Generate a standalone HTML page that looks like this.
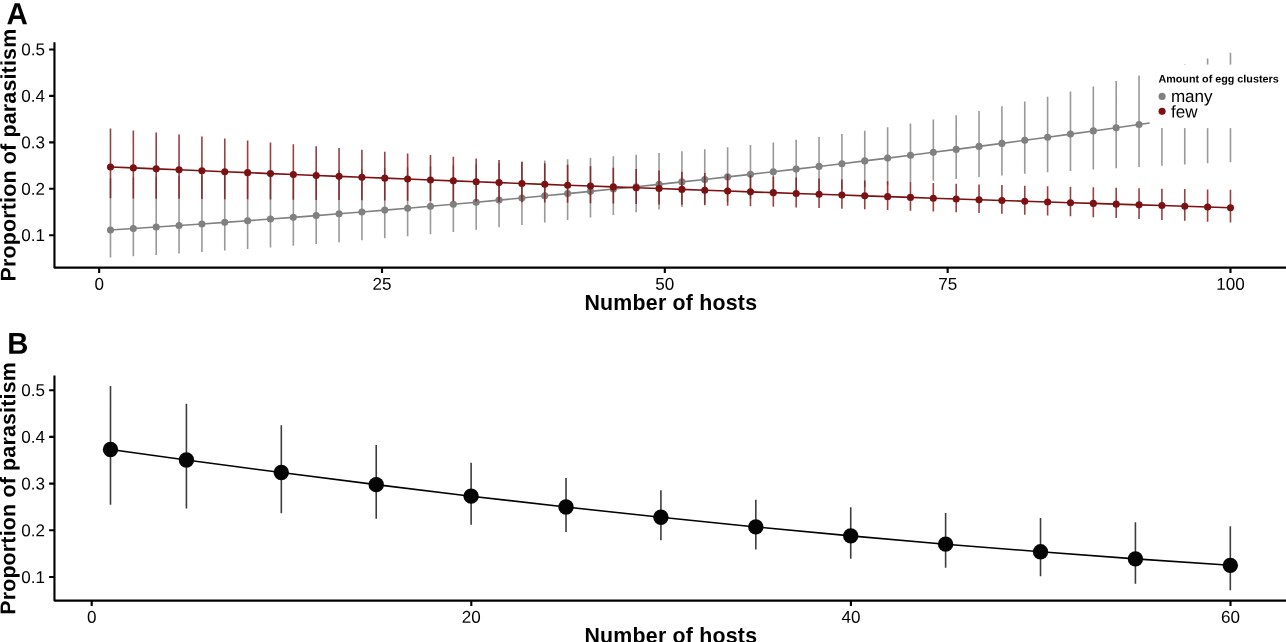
<!DOCTYPE html>
<html lang="en"><head><meta charset="utf-8"><title>Proportion of parasitism vs number of hosts</title>
<style>
html,body{margin:0;padding:0;background:#fff;}
body{width:1286px;height:642px;overflow:hidden;font-family:"Liberation Sans",Arial,sans-serif;}
svg{display:block;will-change:transform;}
svg text{filter:grayscale(1);}
</style></head><body>
<svg width="1286" height="642" viewBox="0 0 1286 642" font-family="Liberation Sans, Arial, sans-serif">
<rect width="1286" height="642" fill="#fff"/>
<g id="panelA">
<path d="M110.48 178.35V257.44M133.34 177.61V256.20M156.20 176.86V254.90M179.05 176.09V253.53M201.91 175.31V252.11M224.77 174.52V250.62M247.62 173.70V249.07M270.48 172.87V247.45M293.34 172.02V245.76M316.19 171.15V244.00M339.05 170.25V242.17M361.91 169.33V240.27M384.77 168.37V238.30M407.62 167.39V236.26M430.48 166.37V234.14M453.34 165.31V231.95M476.19 164.21V229.70M499.05 163.06V227.37M521.91 161.86V224.98M544.76 160.59V222.54M567.62 159.26V220.03M590.48 157.85V217.48M613.33 156.36V214.89M636.19 154.77V212.26M659.05 153.06V209.61M681.90 151.24V206.96M704.76 149.29V204.30M727.62 147.18V201.66M750.48 144.91V199.05M773.33 142.46V196.48M796.19 139.82V193.98M819.05 136.97V191.54M841.90 133.92V189.19M864.76 130.64V186.93M887.62 127.14V184.77M910.47 123.41V182.70M933.33 119.47V180.74M956.19 115.30V178.88M979.04 110.94V177.11M1001.90 106.37V175.43M1024.76 101.62V173.84M1047.61 96.70V172.32M1070.47 91.62V170.88M1093.33 86.40V169.50M1116.19 81.04V168.18M1139.04 75.56V166.91M1161.90 69.98V165.69M1184.76 64.31V164.51M1207.61 58.55V163.36M1230.47 52.74V162.26" fill="none" stroke="#808080" stroke-opacity="0.8" stroke-width="1.6"/>
<polyline points="110.48,229.97 133.34,228.52 156.20,227.03 179.05,225.51 201.91,223.95 224.77,222.36 247.62,220.72 270.48,219.05 293.34,217.34 316.19,215.59 339.05,213.80 361.91,211.97 384.77,210.09 407.62,208.18 430.48,206.23 453.34,204.23 476.19,202.19 499.05,200.11 521.91,197.99 544.76,195.82 567.62,193.61 590.48,191.36 613.33,189.06 636.19,186.72 659.05,184.34 681.90,181.91 704.76,179.43 727.62,176.92 750.48,174.36 773.33,171.75 796.19,169.11 819.05,166.42 841.90,163.68 864.76,160.91 887.62,158.09 910.47,155.23 933.33,152.33 956.19,149.39 979.04,146.40 1001.90,143.38 1024.76,140.32 1047.61,137.22 1070.47,134.09 1093.33,130.92 1116.19,127.71 1139.04,124.47 1161.90,121.20 1184.76,117.89 1207.61,114.56 1230.47,111.19" fill="none" stroke="#808080" stroke-width="1.6" stroke-linejoin="round"/>
<g fill="#808080"><circle cx="110.48" cy="229.97" r="3.55"/><circle cx="133.34" cy="228.52" r="3.55"/><circle cx="156.20" cy="227.03" r="3.55"/><circle cx="179.05" cy="225.51" r="3.55"/><circle cx="201.91" cy="223.95" r="3.55"/><circle cx="224.77" cy="222.36" r="3.55"/><circle cx="247.62" cy="220.72" r="3.55"/><circle cx="270.48" cy="219.05" r="3.55"/><circle cx="293.34" cy="217.34" r="3.55"/><circle cx="316.19" cy="215.59" r="3.55"/><circle cx="339.05" cy="213.80" r="3.55"/><circle cx="361.91" cy="211.97" r="3.55"/><circle cx="384.77" cy="210.09" r="3.55"/><circle cx="407.62" cy="208.18" r="3.55"/><circle cx="430.48" cy="206.23" r="3.55"/><circle cx="453.34" cy="204.23" r="3.55"/><circle cx="476.19" cy="202.19" r="3.55"/><circle cx="499.05" cy="200.11" r="3.55"/><circle cx="521.91" cy="197.99" r="3.55"/><circle cx="544.76" cy="195.82" r="3.55"/><circle cx="567.62" cy="193.61" r="3.55"/><circle cx="590.48" cy="191.36" r="3.55"/><circle cx="613.33" cy="189.06" r="3.55"/><circle cx="636.19" cy="186.72" r="3.55"/><circle cx="659.05" cy="184.34" r="3.55"/><circle cx="681.90" cy="181.91" r="3.55"/><circle cx="704.76" cy="179.43" r="3.55"/><circle cx="727.62" cy="176.92" r="3.55"/><circle cx="750.48" cy="174.36" r="3.55"/><circle cx="773.33" cy="171.75" r="3.55"/><circle cx="796.19" cy="169.11" r="3.55"/><circle cx="819.05" cy="166.42" r="3.55"/><circle cx="841.90" cy="163.68" r="3.55"/><circle cx="864.76" cy="160.91" r="3.55"/><circle cx="887.62" cy="158.09" r="3.55"/><circle cx="910.47" cy="155.23" r="3.55"/><circle cx="933.33" cy="152.33" r="3.55"/><circle cx="956.19" cy="149.39" r="3.55"/><circle cx="979.04" cy="146.40" r="3.55"/><circle cx="1001.90" cy="143.38" r="3.55"/><circle cx="1024.76" cy="140.32" r="3.55"/><circle cx="1047.61" cy="137.22" r="3.55"/><circle cx="1070.47" cy="134.09" r="3.55"/><circle cx="1093.33" cy="130.92" r="3.55"/><circle cx="1116.19" cy="127.71" r="3.55"/><circle cx="1139.04" cy="124.47" r="3.55"/><circle cx="1161.90" cy="121.20" r="3.55"/><circle cx="1184.76" cy="117.89" r="3.55"/><circle cx="1207.61" cy="114.56" r="3.55"/><circle cx="1230.47" cy="111.19" r="3.55"/></g>
<path d="M110.48 128.40V198.35M133.34 130.47V198.50M156.20 132.52V198.65M179.05 134.55V198.81M201.91 136.55V198.98M224.77 138.53V199.15M247.62 140.48V199.33M270.48 142.41V199.52M293.34 144.31V199.71M316.19 146.18V199.91M339.05 148.03V200.12M361.91 149.84V200.34M384.77 151.63V200.57M407.62 153.39V200.81M430.48 155.12V201.06M453.34 156.81V201.32M476.19 158.47V201.60M499.05 160.10V201.89M521.91 161.69V202.19M544.76 163.24V202.51M567.62 164.76V202.85M590.48 166.23V203.21M613.33 167.67V203.59M636.19 169.07V203.98M659.05 170.42V204.40M681.90 171.72V204.85M704.76 172.99V205.31M727.62 174.20V205.81M750.48 175.37V206.33M773.33 176.49V206.87M796.19 177.56V207.45M819.05 178.59V208.05M841.90 179.56V208.68M864.76 180.49V209.34M887.62 181.37V210.02M910.47 182.20V210.74M933.33 182.98V211.47M956.19 183.72V212.24M979.04 184.42V213.02M1001.90 185.08V213.83M1024.76 185.69V214.65M1047.61 186.27V215.49M1070.47 186.82V216.35M1093.33 187.33V217.22M1116.19 187.81V218.11M1139.04 188.26V219.00M1161.90 188.68V219.90M1184.76 189.08V220.80M1207.61 189.46V221.71M1230.47 189.81V222.62" fill="none" stroke="#7c1113" stroke-opacity="0.8" stroke-width="1.6"/>
<polyline points="110.48,166.93 133.34,167.90 156.20,168.86 179.05,169.81 201.91,170.76 224.77,171.71 247.62,172.65 270.48,173.58 293.34,174.51 316.19,175.43 339.05,176.34 361.91,177.25 384.77,178.16 407.62,179.06 430.48,179.95 453.34,180.84 476.19,181.72 499.05,182.59 521.91,183.47 544.76,184.33 567.62,185.19 590.48,186.04 613.33,186.89 636.19,187.73 659.05,188.57 681.90,189.40 704.76,190.23 727.62,191.05 750.48,191.86 773.33,192.67 796.19,193.47 819.05,194.27 841.90,195.06 864.76,195.85 887.62,196.63 910.47,197.41 933.33,198.18 956.19,198.94 979.04,199.70 1001.90,200.45 1024.76,201.20 1047.61,201.94 1070.47,202.68 1093.33,203.41 1116.19,204.14 1139.04,204.86 1161.90,205.57 1184.76,206.28 1207.61,206.99 1230.47,207.69" fill="none" stroke="#7c1113" stroke-width="1.6" stroke-linejoin="round"/>
<g fill="#7c1113"><circle cx="110.48" cy="166.93" r="3.55"/><circle cx="133.34" cy="167.90" r="3.55"/><circle cx="156.20" cy="168.86" r="3.55"/><circle cx="179.05" cy="169.81" r="3.55"/><circle cx="201.91" cy="170.76" r="3.55"/><circle cx="224.77" cy="171.71" r="3.55"/><circle cx="247.62" cy="172.65" r="3.55"/><circle cx="270.48" cy="173.58" r="3.55"/><circle cx="293.34" cy="174.51" r="3.55"/><circle cx="316.19" cy="175.43" r="3.55"/><circle cx="339.05" cy="176.34" r="3.55"/><circle cx="361.91" cy="177.25" r="3.55"/><circle cx="384.77" cy="178.16" r="3.55"/><circle cx="407.62" cy="179.06" r="3.55"/><circle cx="430.48" cy="179.95" r="3.55"/><circle cx="453.34" cy="180.84" r="3.55"/><circle cx="476.19" cy="181.72" r="3.55"/><circle cx="499.05" cy="182.59" r="3.55"/><circle cx="521.91" cy="183.47" r="3.55"/><circle cx="544.76" cy="184.33" r="3.55"/><circle cx="567.62" cy="185.19" r="3.55"/><circle cx="590.48" cy="186.04" r="3.55"/><circle cx="613.33" cy="186.89" r="3.55"/><circle cx="636.19" cy="187.73" r="3.55"/><circle cx="659.05" cy="188.57" r="3.55"/><circle cx="681.90" cy="189.40" r="3.55"/><circle cx="704.76" cy="190.23" r="3.55"/><circle cx="727.62" cy="191.05" r="3.55"/><circle cx="750.48" cy="191.86" r="3.55"/><circle cx="773.33" cy="192.67" r="3.55"/><circle cx="796.19" cy="193.47" r="3.55"/><circle cx="819.05" cy="194.27" r="3.55"/><circle cx="841.90" cy="195.06" r="3.55"/><circle cx="864.76" cy="195.85" r="3.55"/><circle cx="887.62" cy="196.63" r="3.55"/><circle cx="910.47" cy="197.41" r="3.55"/><circle cx="933.33" cy="198.18" r="3.55"/><circle cx="956.19" cy="198.94" r="3.55"/><circle cx="979.04" cy="199.70" r="3.55"/><circle cx="1001.90" cy="200.45" r="3.55"/><circle cx="1024.76" cy="201.20" r="3.55"/><circle cx="1047.61" cy="201.94" r="3.55"/><circle cx="1070.47" cy="202.68" r="3.55"/><circle cx="1093.33" cy="203.41" r="3.55"/><circle cx="1116.19" cy="204.14" r="3.55"/><circle cx="1139.04" cy="204.86" r="3.55"/><circle cx="1161.90" cy="205.57" r="3.55"/><circle cx="1184.76" cy="206.28" r="3.55"/><circle cx="1207.61" cy="206.99" r="3.55"/><circle cx="1230.47" cy="207.69" r="3.55"/></g>
</g>
<g id="legend"><rect x="1149.7" y="64.6" width="138.29999999999995" height="63.5" fill="#fff"/>
<text transform="translate(1158.4 82.45) rotate(0.05)" font-size="10.78" font-weight="bold" fill="#000">Amount of egg clusters</text>
<circle cx="1162.1" cy="96.4" r="3.55" fill="#808080"/><circle cx="1162.1" cy="111.35" r="3.55" fill="#7c1113"/>
<text transform="translate(1170.9 101.9) rotate(0.05)" font-size="17.07" fill="#000">many</text>
<text transform="translate(1170.9 117.5) rotate(0.05)" font-size="17.07" fill="#000">few</text></g>
<g id="axesA" stroke="#000" stroke-width="2.13" fill="none">
<path d="M54.46 42.3V267.6H1288" stroke-linejoin="round"/>
<path d="M49.13 235.20H54.46M49.13 188.77H54.46M49.13 142.34H54.46M49.13 95.91H54.46M49.13 49.48H54.46M99.17 267.6V272.93M382.00 267.6V272.93M664.82 267.6V272.93M947.64 267.6V272.93M1230.47 267.6V272.93"/></g>
<g font-size="17.07" fill="#000">
<text transform="translate(45.0 241.10) rotate(0.05)" text-anchor="end">0.1</text>
<text transform="translate(45.0 194.67) rotate(0.05)" text-anchor="end">0.2</text>
<text transform="translate(45.0 148.24) rotate(0.05)" text-anchor="end">0.3</text>
<text transform="translate(45.0 101.81) rotate(0.05)" text-anchor="end">0.4</text>
<text transform="translate(45.0 55.38) rotate(0.05)" text-anchor="end">0.5</text>
<text transform="translate(99.17 289.65) rotate(0.05)" text-anchor="middle">0</text>
<text transform="translate(382.00 289.65) rotate(0.05)" text-anchor="middle">25</text>
<text transform="translate(664.82 289.65) rotate(0.05)" text-anchor="middle">50</text>
<text transform="translate(947.64 289.65) rotate(0.05)" text-anchor="middle">75</text>
<text transform="translate(1230.47 289.65) rotate(0.05)" text-anchor="middle">100</text>
</g>
<text x="670.88" y="309.77" text-anchor="middle" font-size="21.33" font-weight="bold" letter-spacing="0.22" fill="#000">Number of hosts</text>
<text transform="translate(15.65 155.05) rotate(-89.97)" text-anchor="middle" font-size="21.33" font-weight="bold" letter-spacing="0.21" fill="#000">Proportion of parasitism</text>
<text transform="translate(6.6 24.35) rotate(0.05) scale(1 1.035)" font-size="29.6" font-weight="bold" fill="#000">A</text>
<g id="panelB">
<path d="M110.50 386.06V504.80M186.42 403.79V508.44M281.32 425.14V513.30M376.22 445.02V518.68M471.12 462.80V524.82M566.02 477.96V531.99M660.92 490.21V540.27M755.82 499.76V549.40M850.72 507.17V558.79M945.62 513.09V567.87M1040.52 518.03V576.23M1135.42 522.32V583.69M1230.32 526.15V590.20" fill="none" stroke="#000" stroke-opacity="0.76" stroke-width="1.6"/>
<polyline points="110.50,449.51 186.42,459.94 281.32,472.55 376.22,484.64 471.12,496.15 566.02,507.05 660.92,517.31 755.82,526.91 850.72,535.86 945.62,544.16 1040.52,551.82 1135.42,558.87 1230.32,565.33" fill="none" stroke="#000" stroke-width="1.55"/>
<g fill="#050505"><circle cx="110.50" cy="449.51" r="7.7"/><circle cx="186.42" cy="459.94" r="7.7"/><circle cx="281.32" cy="472.55" r="7.7"/><circle cx="376.22" cy="484.64" r="7.7"/><circle cx="471.12" cy="496.15" r="7.7"/><circle cx="566.02" cy="507.05" r="7.7"/><circle cx="660.92" cy="517.31" r="7.7"/><circle cx="755.82" cy="526.91" r="7.7"/><circle cx="850.72" cy="535.86" r="7.7"/><circle cx="945.62" cy="544.16" r="7.7"/><circle cx="1040.52" cy="551.82" r="7.7"/><circle cx="1135.42" cy="558.87" r="7.7"/><circle cx="1230.32" cy="565.33" r="7.7"/></g>
</g>
<g id="axesB" stroke="#000" stroke-width="2.13" fill="none">
<path d="M54.46 375.4V600.58H1288" stroke-linejoin="round"/>
<path d="M49.13 577.00H54.46M49.13 530.30H54.46M49.13 483.60H54.46M49.13 436.90H54.46M49.13 390.20H54.46M91.70 600.58V605.91M471.30 600.58V605.91M850.90 600.58V605.91M1230.50 600.58V605.91"/></g>
<g font-size="17.07" fill="#000">
<text transform="translate(45.0 582.90) rotate(0.05)" text-anchor="end">0.1</text>
<text transform="translate(45.0 536.20) rotate(0.05)" text-anchor="end">0.2</text>
<text transform="translate(45.0 489.50) rotate(0.05)" text-anchor="end">0.3</text>
<text transform="translate(45.0 442.80) rotate(0.05)" text-anchor="end">0.4</text>
<text transform="translate(45.0 396.10) rotate(0.05)" text-anchor="end">0.5</text>
<text transform="translate(91.70 622.80) rotate(0.05)" text-anchor="middle">0</text>
<text transform="translate(471.30 622.80) rotate(0.05)" text-anchor="middle">20</text>
<text transform="translate(850.90 622.80) rotate(0.05)" text-anchor="middle">40</text>
<text transform="translate(1230.50 622.80) rotate(0.05)" text-anchor="middle">60</text>
</g>
<text x="670.88" y="643.15" text-anchor="middle" font-size="21.33" font-weight="bold" letter-spacing="0.22" fill="#000">Number of hosts</text>
<text transform="translate(15.20 488.44) rotate(-89.97)" text-anchor="middle" font-size="21.33" font-weight="bold" letter-spacing="0.21" fill="#000">Proportion of parasitism</text>
<text transform="translate(7.2 353.75) rotate(0.05) scale(0.99 1.02)" font-size="29.6" font-weight="bold" fill="#000">B</text>
</svg>
</body></html>
